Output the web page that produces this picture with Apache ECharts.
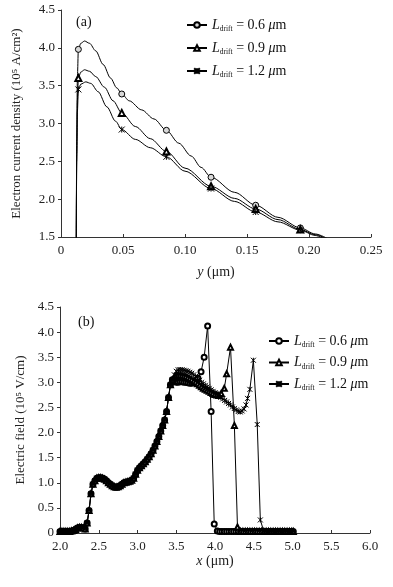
<!DOCTYPE html>
<html><head><meta charset="utf-8">
<script src="https://cdn.jsdelivr.net/npm/echarts@6/dist/echarts.min.js"></script>
<style>html,body{margin:0;padding:0;background:#fff}#c{width:393px;height:587px}</style>
</head><body><div id="c"></div>
<script>
// ---------- Panel (a): electron current density vs y ----------
const driftLabels = ['0.6', '0.9', '1.2'];
const topMarkX = [0.014, 0.049, 0.085, 0.121, 0.157, 0.193];
const jn06 = [[0.0123,1.45],[0.0127,2.8],[0.0132,3.6],[0.014,3.98],[0.016,4.06],[0.019,4.09],[0.023,4.06],[0.028,3.96],[0.034,3.78],[0.040,3.60],[0.045,3.47],[0.049,3.39],[0.055,3.30],[0.065,3.18],[0.075,3.06],[0.085,2.91],[0.095,2.74],[0.105,2.57],[0.113,2.42],[0.121,2.29],[0.140,2.09],[0.157,1.92],[0.175,1.76],[0.193,1.62],[0.205,1.54],[0.216,1.47]];
const jn09 = [[0.0123,1.45],[0.0127,2.6],[0.0132,3.3],[0.014,3.60],[0.016,3.68],[0.019,3.71],[0.023,3.69],[0.028,3.62],[0.035,3.48],[0.042,3.30],[0.049,3.14],[0.060,2.96],[0.072,2.80],[0.085,2.63],[0.100,2.41],[0.121,2.17],[0.140,2.01],[0.157,1.87],[0.175,1.73],[0.193,1.60],[0.205,1.53],[0.215,1.47]];
const jn12 = [[0.0123,1.45],[0.0127,2.5],[0.0132,3.15],[0.014,3.45],[0.016,3.52],[0.020,3.55],[0.024,3.53],[0.030,3.42],[0.037,3.22],[0.044,3.03],[0.049,2.92],[0.060,2.79],[0.072,2.68],[0.085,2.56],[0.100,2.37],[0.121,2.14],[0.140,1.97],[0.157,1.83],[0.175,1.70],[0.193,1.59],[0.205,1.52],[0.214,1.46]];

// ---------- Panel (b): electric field vs x ----------
const fieldCommonX = [2.000,2.025,2.050,2.075,2.100,2.125,2.150,2.175,2.200,2.225,2.250,2.275,2.300,2.325,2.350,2.375,2.400,2.425,2.450,2.475,2.500,2.525,2.550,2.575,2.600,2.625,2.650,2.675,2.700,2.725,2.750,2.775,2.800,2.825,2.850,2.875,2.900,2.925,2.950,2.975,3.000,3.025,3.050,3.075,3.100,3.125,3.150,3.175,3.200,3.225,3.250,3.275,3.300,3.325,3.350,3.375,3.400,3.425,3.450];
const fieldCommonV = [0.03,0.03,0.03,0.03,0.03,0.03,0.04,0.05,0.07,0.10,0.11,0.11,0.10,0.08,0.20,0.45,0.78,0.97,1.04,1.09,1.10,1.10,1.09,1.07,1.04,1.00,0.97,0.94,0.92,0.91,0.92,0.94,0.97,1.00,1.01,1.02,1.03,1.05,1.09,1.17,1.25,1.30,1.34,1.38,1.42,1.47,1.52,1.58,1.65,1.73,1.82,1.92,2.03,2.14,2.25,2.42,2.70,2.95,3.05];
const field06 = [[3.475,3.02],[3.500,3.00],[3.525,3.00],[3.550,3.01],[3.575,3.01],[3.600,3.00],[3.625,3.00],[3.650,2.99],[3.675,2.98],[3.700,2.98],[3.725,2.99],[3.750,3.02],[3.780,3.08],[3.820,3.21],[3.860,3.50],[3.905,4.12],[3.950,2.42],[3.990,0.18]];
const field09 = [[3.475,3.10],[3.500,3.13],[3.525,3.14],[3.550,3.14],[3.575,3.13],[3.600,3.12],[3.625,3.11],[3.650,3.09],[3.675,3.07],[3.700,3.05],[3.725,3.02],[3.750,3.00],[3.775,2.97],[3.800,2.94],[3.825,2.91],[3.850,2.88],[3.875,2.86],[3.900,2.84],[3.925,2.82],[3.950,2.80],[3.975,2.78],[4.000,2.76],[4.025,2.75],[4.050,2.74],[4.080,2.78],[4.120,2.88],[4.150,3.17],[4.200,3.70],[4.250,2.14],[4.290,0.12]];
const field12 = [[3.475,3.15],[3.500,3.22],[3.525,3.25],[3.550,3.25],[3.575,3.25],[3.600,3.24],[3.625,3.23],[3.650,3.22],[3.675,3.20],[3.700,3.18],[3.725,3.15],[3.750,3.12],[3.775,3.08],[3.800,3.04],[3.825,3.00],[3.850,2.97],[3.875,2.94],[3.900,2.91],[3.925,2.88],[3.950,2.85],[3.975,2.82],[4.000,2.79],[4.025,2.76],[4.050,2.73],[4.075,2.70],[4.100,2.67],[4.125,2.64],[4.150,2.61],[4.175,2.58],[4.200,2.55],[4.225,2.51],[4.250,2.48],[4.275,2.45],[4.300,2.42],[4.325,2.41],[4.350,2.43],[4.375,2.47],[4.400,2.55],[4.420,2.68],[4.450,2.86],[4.495,3.44],[4.545,2.16],[4.585,0.26]];
const fieldTail = [[4.03,0.04],[4.06,0.03],[4.09,0.03],[4.12,0.03],[4.15,0.03],[4.18,0.03],[4.21,0.03],[4.24,0.03],[4.27,0.03],[4.30,0.03],[4.33,0.03],[4.36,0.03],[4.39,0.03],[4.42,0.03],[4.45,0.03],[4.48,0.03],[4.51,0.03],[4.54,0.03],[4.57,0.03],[4.60,0.03],[4.63,0.03],[4.66,0.03],[4.69,0.03],[4.72,0.03],[4.75,0.03],[4.78,0.03],[4.81,0.03],[4.84,0.03],[4.87,0.03],[4.90,0.03],[4.93,0.03],[4.96,0.03],[4.99,0.03],[5.01,0.03]];

const topTicksY = {min:1.5, max:4.5, step:0.5};
const topTicksX = {min:0, max:0.25, step:0.05};
const botTicksY = {min:0, max:4.5, step:0.5};
const botTicksX = {min:2, max:6, step:0.5};

const FONT = 'Liberation Serif';
const ASTER = 'path://M0,0L10,10M10,0L0,10M5,0L5,10';

function topData(arr){
  return arr.map(p => topMarkX.some(m => Math.abs(m - p[0]) < 1e-6) ? {value:p} : {value:p, symbol:'none'});
}
function botData(tail){
  const common = fieldCommonX.map((x,i)=>[x, fieldCommonV[i]]);
  const lastX = tail[tail.length-1][0];
  return common.concat(tail, fieldTail.filter(p => p[0] > lastX + 0.02));
}

const symbols = [
  {symbol:'circle', itemStyle:{color:'#d8d8d8', borderColor:'#000', borderWidth:1}},
  {symbol:'emptyTriangle', itemStyle:{color:'#000', borderColor:'#000', borderWidth:1}},
  {symbol:ASTER, itemStyle:{color:'#000', borderColor:'#000', borderWidth:1}}
];
const symbolsB = [
  {symbol:'emptyCircle', itemStyle:{color:'#000', borderColor:'#000', borderWidth:1}},
  {symbol:'emptyTriangle', itemStyle:{color:'#000', borderColor:'#000', borderWidth:1}},
  {symbol:ASTER, itemStyle:{color:'#000', borderColor:'#000', borderWidth:1}}
];

const axisBase = {
  axisLine:{show:true, lineStyle:{color:'#333', width:1}},
  splitLine:{show:false},
  axisLabel:{color:'#222', fontFamily:FONT, fontSize:13},
  nameTextStyle:{color:'#222', fontFamily:FONT, fontSize:13}
};

const legendRich = {
  i:{fontFamily:FONT, fontStyle:'italic', fontSize:14, color:'#111'},
  s:{fontFamily:FONT, fontSize:7.5, color:'#111', padding:[9,0,0,0]},
  n:{fontFamily:FONT, fontSize:14, color:'#111'}
};
function legendFmt(name){
  const v = name.slice(1);
  return '{i|L}{s|drift}{n| = ' + v + ' }{i|μ}{n|m}';
}

const chart = echarts.init(document.getElementById('c'));
chart.setOption({
  animation:false,
  backgroundColor:'#fff',
  grid:[
    {left:61, right:22, top:10, height:227},
    {left:60, right:23, top:307, height:226}
  ],
  xAxis:[
    Object.assign({}, axisBase, {type:'value', gridIndex:0, min:topTicksX.min, max:topTicksX.max, interval:topTicksX.step,
      axisTick:{show:true, inside:true, length:3, lineStyle:{color:'#333'}},
      axisLabel:Object.assign({}, axisBase.axisLabel, {margin:7, formatter:v => v===0 ? '0' : v.toFixed(2)}),
      name:'{it|y} (μm)', nameLocation:'middle', nameGap:28,
      nameTextStyle:{color:'#222', fontFamily:FONT, fontSize:14, rich:{it:{fontStyle:'italic', fontFamily:FONT, fontSize:14, color:'#222'}}}}),
    Object.assign({}, axisBase, {type:'value', gridIndex:1, min:botTicksX.min, max:botTicksX.max, interval:botTicksX.step,
      axisTick:{show:true, inside:true, length:3, lineStyle:{color:'#333'}},
      axisLabel:Object.assign({}, axisBase.axisLabel, {margin:7, formatter:v => v.toFixed(1)}),
      name:'{it|x} (μm)', nameLocation:'middle', nameGap:21,
      nameTextStyle:{color:'#222', fontFamily:FONT, fontSize:14, rich:{it:{fontStyle:'italic', fontFamily:FONT, fontSize:14, color:'#222'}}}})
  ],
  yAxis:[
    Object.assign({}, axisBase, {type:'value', gridIndex:0, min:topTicksY.min, max:topTicksY.max, interval:topTicksY.step,
      axisTick:{show:true, inside:false, length:3, lineStyle:{color:'#333'}},
      axisLabel:Object.assign({}, axisBase.axisLabel, {margin:6, formatter:v => v.toFixed(1)}),
      name:'Electron current density (10⁵ A/cm²)', nameLocation:'middle', nameGap:38}),
    Object.assign({}, axisBase, {type:'value', gridIndex:1, min:botTicksY.min, max:botTicksY.max, interval:botTicksY.step,
      axisTick:{show:true, inside:false, length:3, lineStyle:{color:'#333'}},
      axisLabel:Object.assign({}, axisBase.axisLabel, {margin:6, formatter:v => v===0 ? '0' : v.toFixed(1)}),
      name:'Electric field (10⁵ V/cm)', nameLocation:'middle', nameGap:26})
  ],
  legend:[
    {orient:'vertical', left:181, top:13, itemWidth:20, itemHeight:7, itemGap:7.5,
     data:['a0.6','a0.9','a1.2'], formatter:legendFmt, textStyle:{rich:legendRich}, selectedMode:false},
    {orient:'vertical', left:263, top:329, itemWidth:20, itemHeight:7, itemGap:6,
     data:['b0.6','b0.9','b1.2'], formatter:legendFmt, textStyle:{rich:legendRich}, selectedMode:false}
  ],
  graphic:[
    {type:'text', left:76, top:15, style:{text:'(a)', font:'14px "Liberation Serif"', fill:'#111'}},
    {type:'text', left:78, top:315, style:{text:'(b)', font:'14px "Liberation Serif"', fill:'#111'}}
  ],
  series:[
    ...[jn06, jn09, jn12].map((arr,k)=>({
      name:'a'+driftLabels[k], type:'line', xAxisIndex:0, yAxisIndex:0,
      data:topData(arr), smooth:0.3, smoothMonotone:'x', showSymbol:true, showAllSymbol:true,
      symbol:symbols[k].symbol, symbolSize:6, itemStyle:symbols[k].itemStyle,
      lineStyle:{color:'#000', width:1}, clip:true, z:3
    })),
    ...[field06, field09, field12].map((arr,k)=>({
      name:'b'+driftLabels[k], type:'line', xAxisIndex:1, yAxisIndex:1,
      data:botData(arr), smooth:false, showSymbol:true, showAllSymbol:true,
      symbol:symbolsB[k].symbol, symbolSize:5, itemStyle:symbolsB[k].itemStyle,
      lineStyle:{color:'#000', width:1}, clip:true, z:3+k
    }))
  ]
});
</script></body></html>
